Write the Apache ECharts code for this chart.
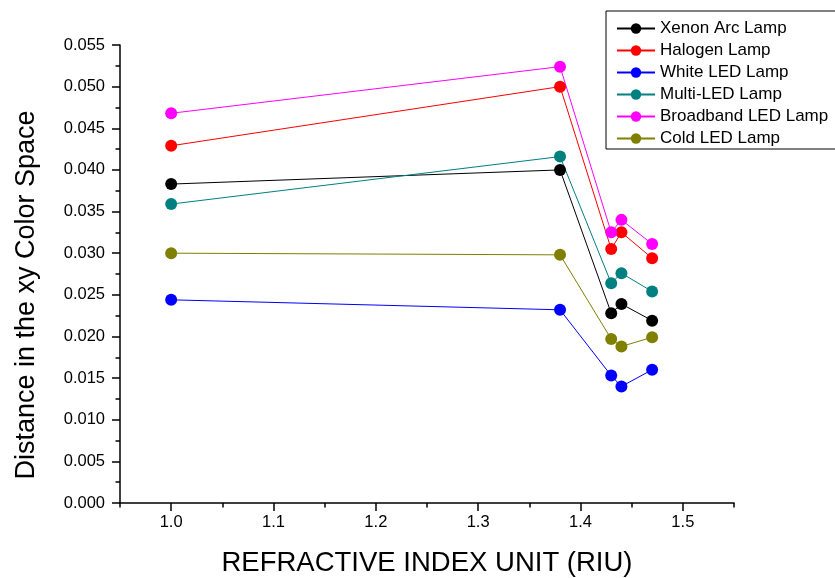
<!DOCTYPE html>
<html><head><meta charset="utf-8">
<script src="https://cdn.jsdelivr.net/npm/echarts@6/dist/echarts.min.js"></script>
<style>html,body{margin:0;padding:0;background:#fff}#c{width:835px;height:578px}</style>
</head><body><div id="c"></div>
<script>
const xValues = [1.0, 1.38, 1.43, 1.44, 1.47];
const seriesNames = ["Xenon Arc Lamp","Halogen Lamp","White LED Lamp","Multi-LED Lamp","Broadband LED Lamp","Cold LED Lamp"];
const xenon     = [0.0383, 0.0400, 0.0228, 0.0239, 0.0219];
const halogen   = [0.0429, 0.0500, 0.0305, 0.0325, 0.0294];
const whiteLED  = [0.0244, 0.0232, 0.0153, 0.0140, 0.0160];
const multiLED  = [0.0359, 0.0416, 0.0264, 0.0276, 0.0254];
const broadband = [0.0468, 0.0524, 0.0325, 0.0340, 0.0311];
const coldLED   = [0.0300, 0.0298, 0.0197, 0.0188, 0.0199];
const xMajorTicks = [1.0, 1.1, 1.2, 1.3, 1.4, 1.5];
const xMinorTicks = [0.95, 1.05, 1.15, 1.25, 1.35, 1.45, 1.55];
const colors = ["#000000","#ff0000","#0000ff","#008080","#ff00ff","#808000"];
const allData = [xenon, halogen, whiteLED, multiLED, broadband, coldLED];

const font = "Liberation Sans, Arial, sans-serif";
const chart = echarts.init(document.getElementById('c'));
chart.setOption({
  animation: false,
  backgroundColor: '#fff',
  grid: {left: 120, right: 101, top: 45, bottom: 75, outerBoundsMode: 'none', containLabel: false},
  legend: {
    orient: 'vertical', left: 606, top: 11,
    itemWidth: 38, itemHeight: 13, itemGap: 5,
    padding: [9, 40, 2, 10],
    borderColor: '#000', borderWidth: 1,
    textStyle: {fontFamily: font, fontSize: 17, color: '#000'},
    data: seriesNames
  },
  xAxis: [{
    type: 'value', min: 0.95, max: 1.55,
    name: 'REFRACTIVE INDEX UNIT (RIU)', nameLocation: 'middle', nameGap: 46,
    nameTextStyle: {fontFamily: font, fontSize: 27.5, color: '#000'},
    axisLine: {show: true, onZero: false, lineStyle: {color: '#000', width: 1.5}},
    axisTick: {show: true, customValues: xMajorTicks, length: 8, lineStyle: {color: '#000', width: 1.5}},
    axisLabel: {customValues: xMajorTicks, formatter: v => v.toFixed(1), fontFamily: font, fontSize: 16.5, color: '#000', margin: 11},
    splitLine: {show: false}
  }, {
    type: 'value', min: 0.95, max: 1.55, position: 'bottom',
    axisLine: {show: false},
    axisTick: {show: true, customValues: xMinorTicks, length: 4.5, lineStyle: {color: '#000', width: 1.5}},
    axisLabel: {show: false},
    splitLine: {show: false}
  }],
  yAxis: {
    type: 'value', min: 0, max: 0.055, interval: 0.005,
    name: 'Distance in the xy Color Space', nameLocation: 'middle', nameGap: 80,
    nameTextStyle: {fontFamily: font, fontSize: 27, color: '#000', padding: [0, 42, 0, 0]},
    axisLine: {show: true, lineStyle: {color: '#000', width: 1.5}},
    axisTick: {show: true, length: 8, lineStyle: {color: '#000', width: 1.5}},
    minorTick: {show: true, splitNumber: 2, length: 4.5, lineStyle: {color: '#000', width: 1.5}},
    axisLabel: {formatter: v => v.toFixed(3), fontFamily: font, fontSize: 16.5, color: '#000', margin: 15},
    splitLine: {show: false}
  },
  series: seriesNames.map((n, i) => ({
    name: n, type: 'line', xAxisIndex: 0,
    data: xValues.map((x, j) => [x, allData[i][j]]),
    symbol: 'circle', symbolSize: 12,
    itemStyle: {color: colors[i]},
    lineStyle: {color: colors[i], width: 1}
  }))
});
</script></body></html>
